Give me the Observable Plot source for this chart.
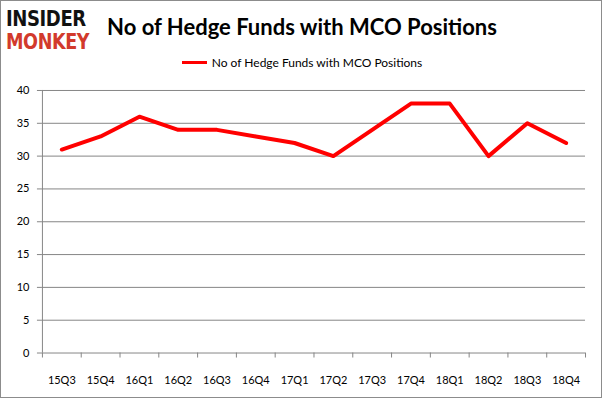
<!DOCTYPE html>
<html><head><meta charset="utf-8">
<script src="https://cdn.jsdelivr.net/npm/d3@7"></script>
<script src="https://cdn.jsdelivr.net/npm/@observablehq/plot@0.6"></script>
<style>
html,body{margin:0;padding:0;background:#fff;}
#wrap{position:relative;width:602px;height:398px;box-sizing:border-box;border:1px solid #8c8c8c;overflow:hidden;font-family:Lato,"Open Sans",sans-serif;}
#logo1{position:absolute;left:5px;top:9px;font:900 22px/18px "DejaVu Sans",sans-serif;color:#111;letter-spacing:-0.5px;transform:scaleX(0.82);transform-origin:left top;}
#logo2{position:absolute;left:5px;top:31px;font:900 22px/19px "DejaVu Sans",sans-serif;color:#d23a2c;letter-spacing:-0.5px;transform:scaleX(0.8);transform-origin:left top;}
#title{position:absolute;left:0;width:602px;top:12px;text-align:center;font:bold 22px Lato,sans-serif;color:#000;}
#legend{position:absolute;left:0;width:602px;top:54px;text-align:center;font:12px Lato,sans-serif;color:#000;}
#legend span.sw{display:inline-block;width:25px;height:3px;background:#ff0000;vertical-align:middle;margin-right:5px;position:relative;top:-1px;}
#chart{position:absolute;left:-1px;top:73px;}
</style></head>
<body>
<div id="wrap">
  <div id="logo1">INSIDER</div>
  <div id="logo2">MONKEY</div>
  <div id="title">No of Hedge Funds with MCO Positions</div>
  <div id="legend"><span class="sw"></span>No of Hedge Funds with MCO Positions</div>
  <div id="chart"></div>
</div>
<script>
const quarters = ["15Q3","15Q4","16Q1","16Q2","16Q3","16Q4","17Q1","17Q2","17Q3","17Q4","18Q1","18Q2","18Q3","18Q4"];
const funds = [31,33,36,34,34,33,32,30,34,38,38,30,35,32];
const yTicks = [0,5,10,15,20,25,30,35,40];

const data = quarters.map((q,i)=>({q, i, v: funds[i]}));
const gray = "#868686";
const plot = Plot.plot({
  width: 602,
  height: 325,
  marginLeft: 42,
  marginRight: 16,
  marginTop: 16,
  marginBottom: 46,
  style: {fontFamily: "Lato, sans-serif", fontSize: "11px", color: "#000", background: "transparent"},
  x: {domain: [0, quarters.length]},
  y: {domain: [0, 40]},
  marks: [
    Plot.gridY(yTicks.filter(t=>t>0), {stroke: gray, strokeOpacity: 1}),
    Plot.ruleY([0], {stroke: gray}),
    Plot.ruleX([0], {stroke: gray}),
    Plot.axisY(yTicks, {tickSize: 5, tickPadding: 8, stroke: gray, label: null, tickFormat: d=>String(d)}),
    Plot.axisX(d3.range(0, quarters.length+1), {tickSize: 5, tickFormat: () => "", stroke: gray, label: null}),
    Plot.axisX(quarters.map((q,i)=>i+0.5), {tickSize: 0, tickPadding: 23, tickFormat: d => quarters[Math.floor(d)], label: null}),
    Plot.line(data, {x: d => d.i + 0.5, y: "v", stroke: "#ff0000", strokeWidth: 4, strokeLinejoin: "round", strokeLinecap: "round"})
  ]
});
document.getElementById("chart").appendChild(plot);
</script>
</body></html>
